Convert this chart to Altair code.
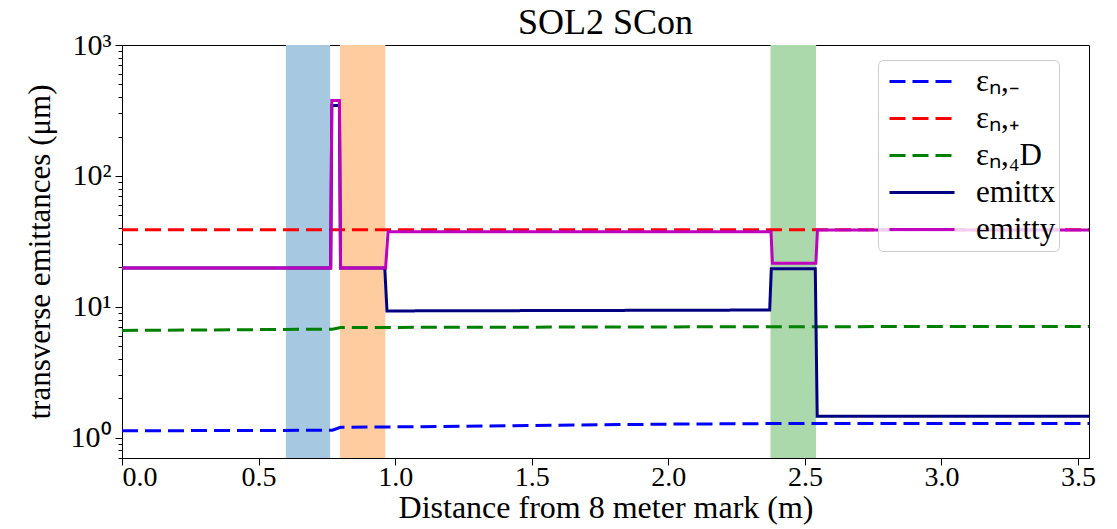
import altair as alt
import pandas as pd

# ---------------- data ----------------
series_names = ["εₙ,₋", "εₙ,₊", "εₙ,₄D", "emittx", "emitty"]
series_colors = ["#0000ff", "#ff0000", "#008000", "#000080", "#bf00bf"]
series_dashes = [[16, 7], [16, 7], [16, 7], [1, 0], [1, 0]]

eps_minus_x = [0.0, 0.77, 0.80, 1.0, 1.5, 2.0, 2.45, 2.55, 3.54]
eps_minus_y = [1.13, 1.14, 1.20, 1.21, 1.24, 1.27, 1.285, 1.285, 1.285]

eps_plus_x = [0.0, 3.54]
eps_plus_y = [38.8, 38.8]

eps_4d_x = [0.0, 0.77, 0.80, 2.4, 3.54]
eps_4d_y = [6.6, 6.75, 6.95, 7.05, 7.08]

emittx_x = [0.0, 0.764, 0.768, 0.796, 0.800, 0.962, 0.970, 2.371, 2.377, 2.538, 2.545, 3.54]
emittx_y = [19.8, 19.8, 345, 345, 19.8, 19.8, 9.3, 9.45, 19.5, 19.5, 1.46, 1.46]

emitty_x = [0.0, 0.764, 0.768, 0.796, 0.800, 0.965, 0.974, 2.376, 2.381, 2.540, 2.546, 3.54]
emitty_y = [19.8, 19.8, 376, 376, 19.8, 19.8, 37.5, 37.5, 21.5, 21.5, 38.6, 38.6]

region_start = [0.600, 0.798, 2.374]
region_end = [0.762, 0.964, 2.541]
region_fill = ["#a6c8e0", "#ffcc9f", "#abd9ab"]

x_domain = [0.0, 3.54]
y_domain = [0.7, 1000]
x_ticks = [0.0, 0.5, 1.0, 1.5, 2.0, 2.5, 3.0, 3.5]
y_ticks = [1, 10, 100, 1000]
y_tick_labels = ["10⁰", "10¹", "10²", "10³"]
y_minor = [m * d for d in [0.1, 1, 10, 100] for m in range(2, 10) if 0.7 <= m * d <= 1000]

FONT = "Liberation Serif"

# ---------------- tables ----------------
def table(name, xs, ys):
    return pd.DataFrame({"series": name, "x": xs, "y": ys, "i": list(range(len(xs)))})

dashed_df = pd.concat([
    table(series_names[0], eps_minus_x, eps_minus_y),
    table(series_names[1], eps_plus_x, eps_plus_y),
    table(series_names[2], eps_4d_x, eps_4d_y),
])
ex_df = table(series_names[3], emittx_x, emittx_y)
ey_df = table(series_names[4], emitty_x, emitty_y)
reg_df = pd.DataFrame({"start": region_start, "end": region_end, "fill": region_fill})

label_expr = " : ".join(
    f"datum.value == {v} ? '{l}'" for v, l in zip(y_ticks[:-1], y_tick_labels[:-1])
) + f" : '{y_tick_labels[-1]}'"

xscale = alt.Scale(domain=x_domain, nice=False, zero=False)
yscale = alt.Scale(type="log", domain=y_domain, nice=False)

x_axis = alt.Axis(values=x_ticks, format=".1f", title="Distance from 8 meter mark (m)",
                  grid=False, tickSize=7, labelPadding=-2, titlePadding=1,
                  labelFontSize=28, titleFontSize=32)

legend = alt.Legend(
    title=None, orient="none", legendX=756, legendY=15,
    symbolType="stroke", symbolSize=4225, symbolStrokeWidth=3,
    labelFont=FONT, labelFontSize=31, labelColor="black", labelOffset=20,
    padding=3, symbolOffset=7, rowPadding=0, clipHeight=37,
    fillColor="rgba(255,255,255,0.8)", strokeColor="#cccccc", cornerRadius=5,
)
color_enc = alt.Color("series:N", scale=alt.Scale(domain=series_names, range=series_colors), legend=legend)
dash_enc = alt.StrokeDash("series:N", scale=alt.Scale(domain=series_names, range=series_dashes), legend=legend)

rects = alt.Chart(reg_df).mark_rect().encode(
    x=alt.X("start:Q", scale=xscale, axis=x_axis),
    x2="end:Q",
    y=alt.Y(datum=y_domain[1], type="quantitative", scale=yscale,
            axis=alt.Axis(values=y_ticks, labelExpr=label_expr, title="transverse emittances (μm)",
                          grid=False, tickSize=7, labelPadding=4, titlePadding=14,
                          labelFontSize=30)),
    y2=alt.datum(y_domain[0]),
    fill=alt.Fill("fill:N", scale=None),
)

minor = alt.Chart(reg_df).mark_rect(opacity=0).encode(
    x=alt.X("start:Q", scale=xscale, axis=x_axis),
    x2="end:Q",
    y=alt.Y(datum=y_domain[1], type="quantitative", scale=yscale,
            axis=alt.Axis(values=y_minor, labels=False, title=None, grid=False, domain=False,
                          tickSize=4, orient="left")),
    y2=alt.datum(y_domain[0]),
)

def lines(df):
    return alt.Chart(df).mark_line(strokeWidth=3, strokeCap="butt").encode(
        x=alt.X("x:Q", scale=xscale, axis=x_axis),
        y=alt.Y("y:Q", scale=yscale, axis=None),
        color=color_enc,
        strokeDash=dash_enc,
        order="i:Q",
    )

chart = alt.layer(rects, minor, lines(dashed_df), lines(ex_df), lines(ey_df)).resolve_axis(
    y="independent"
).properties(
    width=967, height=413,
    autosize="none",
    padding={"left": 114, "top": 37, "right": 20, "bottom": 70},
    title=alt.TitleParams("SOL2 SCon", font=FONT, fontSize=36, fontWeight="normal",
                          color="black", anchor="middle", offset=8, dy=20),
).configure_view(
    stroke="black", strokeWidth=1
).configure_axis(
    labelFont=FONT, labelFontSize=29, labelColor="black",
    titleFont=FONT, titleFontSize=31, titleFontWeight="normal", titleColor="black",
    domainColor="black", tickColor="black", domainWidth=1, tickWidth=1,
)

chart.save("out.html", embed_options={"renderer": "svg", "actions": False})
